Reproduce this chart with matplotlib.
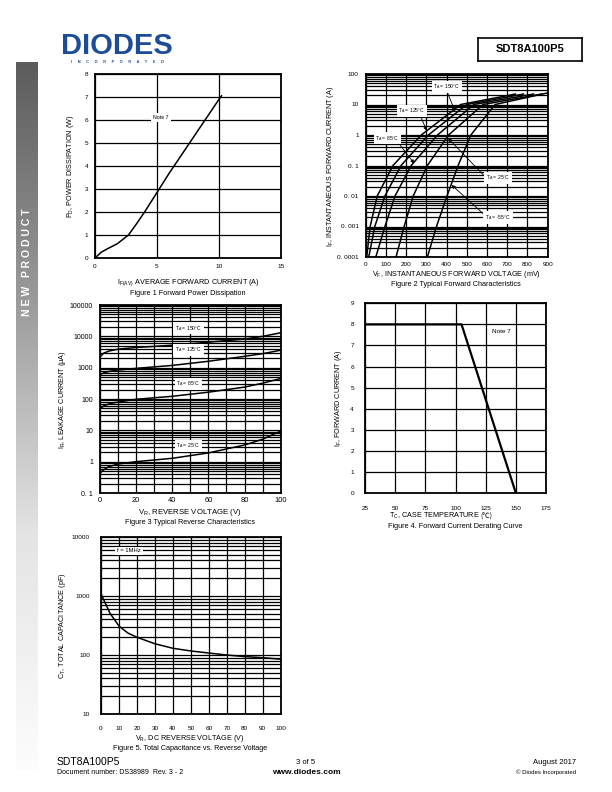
import numpy as np
import matplotlib
matplotlib.use("Agg")
import matplotlib.pyplot as plt
from matplotlib.colors import LinearSegmentedColormap

plt.rcParams["font.family"] = ["Liberation Sans", "DejaVu Sans"]
plt.rcParams["mathtext.fontset"] = "custom"
plt.rcParams["mathtext.rm"] = "Liberation Sans"
plt.rcParams["mathtext.it"] = "Liberation Sans"

# ---- data ----
# Figure 1: forward power dissipation
pd_current = [0, 0.5, 1.0, 1.8, 2.7, 3.3, 4.0, 5.0, 6.0, 7.0, 8.0, 9.0, 10.0, 10.2]
pd_power = [0, 0.25, 0.4, 0.62, 1.0, 1.45, 2.0, 2.85, 3.7, 4.5, 5.3, 6.1, 6.9, 7.05]

# Figure 2: typical forward characteristics (mV, A)
vf_temps = ["150", "125", "85", "25", "-55"]
vf_mv = {
    "150": [5, 22, 57, 135, 275, 470, 740],
    "125": [15, 45, 95, 175, 310, 500, 780],
    "85": [50, 95, 145, 225, 355, 535, 830],
    "25": [150, 190, 235, 305, 410, 580, 870],
    "-55": [305, 350, 402, 457, 520, 640, 900],
}
if_amp = {
    "150": [1e-4, 1e-3, 1e-2, 0.1, 1, 10, 22],
    "125": [1e-4, 1e-3, 1e-2, 0.1, 1, 10, 22],
    "85": [1e-4, 1e-3, 1e-2, 0.1, 1, 10, 22],
    "25": [1e-4, 1e-3, 1e-2, 0.1, 1, 10, 22],
    "-55": [1e-4, 1e-3, 1e-2, 0.1, 1, 10, 24],
}

# Figure 3: typical reverse characteristics (V, uA)
vr_volt = [0, 2, 5, 10, 20, 40, 60, 80, 90, 100]
ir_150 = [2200, 2900, 3400, 3900, 4400, 5200, 6500, 8200, 10000, 13000]
ir_125 = [600, 680, 760, 840, 950, 1180, 1600, 2300, 2800, 3600]
ir_85 = [48, 60, 70, 80, 98, 122, 165, 240, 320, 450]
ir_25 = [0.43, 0.55, 0.7, 0.84, 1.0, 1.28, 1.9, 3.4, 5.2, 9.5]

# Figure 4: derating
tc_temp = [25, 105, 150]
if_derate = [8, 8, 0]

# Figure 5: capacitance
cv_volt = [0, 2, 5, 10, 15, 20, 30, 40, 50, 60, 70, 80, 90, 100]
cap_pf = [1100, 800, 510, 310, 235, 200, 155, 130, 117, 108, 100, 94, 90, 85]

W, H = 612, 792
fig = plt.figure(figsize=(W / 100, H / 100), dpi=100)

FS_TICK = 4.6
FS_LAB = 5.2


def make_ax(x0, y0, x1, y1, xpad=4, ypad=4):
    ax = fig.add_axes([x0 / W, 1 - y1 / H, (x1 - x0) / W, (y1 - y0) / H])
    for s in ax.spines.values():
        s.set_linewidth(1.3)
    ax.tick_params(length=0, labelsize=FS_TICK)
    ax.tick_params(axis="x", pad=xpad)
    ax.tick_params(axis="y", pad=ypad)
    ax.set_axisbelow(True)
    return ax


def ftext(x, y, s, **kw):
    kw.setdefault("fontsize", FS_LAB)
    kw.setdefault("ha", "center")
    kw.setdefault("va", "center")
    fig.text(x / W, 1 - y / H, s, **kw)


grid_kw = dict(color="black", lw=0.9)

# ---- Figure 1 ----
ax1 = make_ax(95, 74, 281, 258, xpad=4, ypad=5)
ax1.plot(pd_current, pd_power, color="black", lw=1.1)
ax1.set_xlim(0, 15)
ax1.set_ylim(0, 8)
ax1.set_xticks([0, 5, 10, 15])
ax1.set_yticks(range(0, 9))
ax1.grid(True, **grid_kw)
ax1.text(5.3, 6.1, "Note 7", fontsize=3.8, ha="center", va="center",
         bbox=dict(facecolor="white", edgecolor="none", pad=1.5))
ftext(70, 166, r"$\mathregular{P_D}$, POWER DISSIPATION (W)", rotation=90)
ftext(188, 283, r"$\mathregular{I_{F(AV)}}$ AVERAGE FORWARD CURRENT (A)")
ftext(188, 293, "Figure 1 Forward Power Dissipation")

# ---- Figure 2 ----
ax2 = make_ax(365.7, 74, 547.7, 257, xpad=3.5, ypad=5)
for t in vf_temps:
    ax2.plot(vf_mv[t], if_amp[t], color="black", lw=1.1)
ax2.set_yscale("log")
ax2.set_xlim(0, 900)
ax2.set_ylim(1e-4, 100)
ax2.set_xticks(range(0, 1000, 100))
ax2.set_yticks([1e-4, 1e-3, 1e-2, 0.1, 1, 10, 100])
ax2.set_yticklabels(["0. 0001", "0. 001", "0. 01", "0. 1", "1", "10", "100"])
ax2.minorticks_on()
ax2.tick_params(which="minor", length=0)
ax2.xaxis.set_minor_locator(matplotlib.ticker.NullLocator())
ax2.grid(True, which="both", **grid_kw)
arrow_kw = dict(arrowstyle="-|>", color="black", lw=0.6, mutation_scale=5,
                shrinkA=0, shrinkB=0)
box_kw = dict(facecolor="white", edgecolor="none", pad=1.2)
labels2 = [
    ("150", (402, 37.5), (403, 25.7), (442, 6.0)),
    ("125", (229, 6.3), (268, 4.6), (302, 1.38)),
    ("85", (108, 0.78), (161, 0.56), (240, 0.117)),
    ("25", (654, 0.039), (582, 0.049), (408, 0.78)),
    ("-55", (654, 0.00197), (582, 0.0026), (425, 0.023)),
]
for t, lab, tail, head in labels2:
    ax2.annotate("", xy=head, xytext=tail, arrowprops=arrow_kw)
    ax2.text(lab[0], lab[1], r"$\mathregular{T_A}$ = " + t + "°C", fontsize=3.6,
             ha="center", va="center", bbox=box_kw)
ftext(330, 166, r"$\mathregular{I_F}$, INSTANTANEOUS FORWARD CURRENT (A)", rotation=90)
ftext(456, 275, r"$\mathregular{V_F}$, INSTANTANEOUS FORWARD VOLTAGE (mV)")
ftext(456, 285, "Figure 2 Typical Forward Characteristics")

# ---- Figure 3 ----
ax3 = make_ax(100, 305, 280.7, 493, xpad=3, ypad=5)
for ir in (ir_150, ir_125, ir_85, ir_25):
    ax3.plot(vr_volt, ir, color="black", lw=1.1)
ax3.set_yscale("log")
ax3.set_xlim(0, 100)
ax3.set_ylim(0.1, 100000)
ax3.set_xticks(range(0, 101, 20))
ax3.set_xticks(range(0, 101, 10), minor=True)
ax3.set_yticks([0.1, 1, 10, 100, 1000, 10000, 100000])
ax3.set_yticklabels(["0. 1", "1", "10", "100", "1000", "10000", "100000"])
ax3.tick_params(which="minor", length=0)
ax3.tick_params(axis="x", labelsize=5.4)
ax3.tick_params(axis="y", labelsize=5.0)
ax3.grid(True, which="both", **grid_kw)
for t, y in (("150", 18000), ("125", 3700), ("85", 310), ("25", 3.2)):
    ax3.text(49, y, r"$\mathregular{T_A}$ = " + t + "°C", fontsize=3.6,
             ha="center", va="center", bbox=box_kw)
ftext(63, 400, r"$\mathregular{I_R}$, LEAKAGE CURRENT ($\mathregular{\mu}$A)", rotation=90)
ftext(190, 513, r"$\mathregular{V_R}$, REVERSE VOLTAGE (V)", fontsize=5.6)
ftext(190, 523, "Figure 3 Typical Reverse Characteristics")

# ---- Figure 4 ----
ax4 = make_ax(365, 303.3, 546, 493, xpad=9, ypad=8)
ax4.plot(tc_temp, if_derate, color="black", lw=1.6)
ax4.set_xlim(25, 175)
ax4.set_ylim(0, 9)
ax4.set_xticks(range(25, 176, 25))
ax4.set_yticks(range(0, 10))
ax4.grid(True, **grid_kw)
ax4.text(138, 7.65, "Note 7", fontsize=4.6, ha="center", va="center")
ftext(338, 398, r"$\mathregular{I_F}$, FORWARD CURRENT (A)", rotation=90)
ftext(480, 516, r"$\mathregular{T_C}$, CASE TEMPERATURE ", ha="right")
ftext(480, 516.5, "(℃)", ha="left", family=["Noto Sans CJK JP", "DejaVu Sans"])
ftext(455, 526, "Figure 4. Forward Current Derating Curve")

# ---- Figure 5 ----
ax5 = make_ax(101, 537, 280.7, 714, xpad=9, ypad=8)
ax5.plot(cv_volt, cap_pf, color="black", lw=1.1)
ax5.set_yscale("log")
ax5.set_xlim(0, 100)
ax5.set_ylim(10, 10000)
ax5.set_xticks(range(0, 101, 10))
ax5.set_yticks([10, 100, 1000, 10000])
ax5.set_yticklabels(["10", "100", "1000", "10000"])
ax5.tick_params(which="minor", length=0)
ax5.grid(True, which="both", **grid_kw)
ax5.text(15.6, 5800, "f = 1MHz", fontsize=4.2, ha="center", va="center", bbox=box_kw)
ftext(62, 626, r"$\mathregular{C_T}$, TOTAL CAPACITANCE (pF)", rotation=90)
ftext(190, 738, r"$\mathregular{V_R}$, DC REVERSE VOLTAGE (V)")
ftext(190, 748, "Figure 5. Total Capacitance vs. Reverse Voltage")

# ---- side bar ----
axb = fig.add_axes([16 / W, 1 - 770 / H, 21 / W, (770 - 62) / H])
cmap = LinearSegmentedColormap.from_list("bar", ["#5c5c5c", "#9a9a9a", "#e4e4e4", "#fdfdfd"])
axb.imshow(np.linspace(0, 1, 256).reshape(-1, 1), aspect="auto", cmap=cmap)
axb.axis("off")
ftext(27, 262, "N E W   P R O D U C T", rotation=90, color="white", fontweight="bold", fontsize=7.6)

# ---- header ----
ftext(117, 46, "DIODES", color="#1d4c98", fontweight="bold", fontsize=21)
for yy in (42.5, 49.5):
    fig.add_artist(plt.Line2D([64 / W, 172 / W], [1 - yy / H, 1 - yy / H],
                              color="white", lw=0.7))
ftext(117, 62, "I     N     C     O     R     P     O     R     A     T     E     D",
      color="#1d4c98", fontsize=2.8, fontweight="bold")
hdr = fig.add_axes([478 / W, 1 - 61 / H, 104 / W, 23 / H])
hdr.set_xticks([])
hdr.set_yticks([])
for s in hdr.spines.values():
    s.set_linewidth(1.2)
ftext(530, 49.5, "SDT8A100P5", fontweight="bold", fontsize=8)

# ---- footer ----
ftext(57, 762, "SDT8A100P5", ha="left", fontsize=7.5)
ftext(57, 772, "Document number: DS38989  Rev. 3 - 2", ha="left", fontsize=5)
ftext(306, 762, "3 of 5", fontsize=5.5)
ftext(306, 772, "www.diodes.com", fontsize=6, fontweight="bold")
ftext(576, 762, "August 2017", ha="right", fontsize=5.5)
ftext(576, 772, "© Diodes Incorporated", ha="right", fontsize=4.3)

fig.savefig("out.png", dpi=100)
